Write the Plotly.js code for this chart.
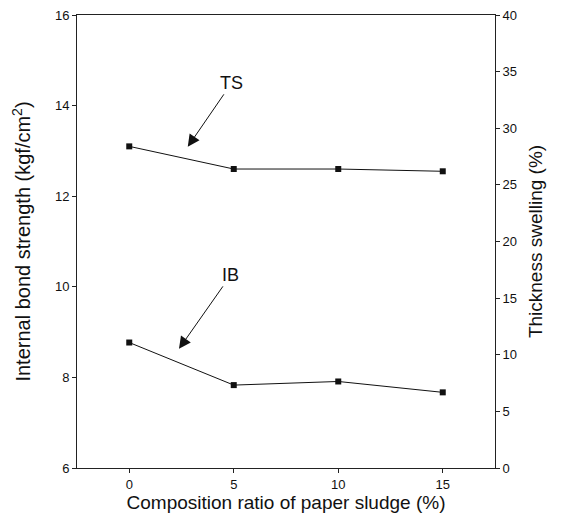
<!DOCTYPE html>
<html>
<head>
<meta charset="utf-8">
<script src="https://cdn.plot.ly/plotly-3.0.1.min.js"></script>
<style>html,body{margin:0;padding:0;background:#fff;}#chart{width:562px;height:517px;}</style>
</head>
<body>
<div id="chart"></div>
<script>
// Data
const sludgeRatio = [0, 5, 10, 15];          // Composition ratio of paper sludge (%)
const ibValues = [8.77, 7.83, 7.91, 7.67];    // Internal bond strength (kgf/cm2)
const tsValues = [28.4, 26.4, 26.4, 26.2];    // Thickness swelling (%)
const xTicks = [0, 5, 10, 15];
const yTicks = [6, 8, 10, 12, 14, 16];
const y2Ticks = [0, 5, 10, 15, 20, 25, 30, 35, 40];

const font = {family: 'Liberation Sans, Arial, sans-serif', color: '#111'};
const f = s => Object.assign({size: s}, font);

const traces = [
  {
    x: sludgeRatio, y: ibValues, name: 'IB', yaxis: 'y',
    mode: 'lines+markers',
    line: {color: '#111', width: 1},
    marker: {symbol: 'square', size: 6, color: '#111'}
  },
  {
    x: sludgeRatio, y: tsValues, name: 'TS', yaxis: 'y2',
    mode: 'lines+markers',
    line: {color: '#111', width: 1},
    marker: {symbol: 'square', size: 6, color: '#111'}
  }
];

const layout = {
  width: 562, height: 517,
  margin: {l: 77, r: 67, t: 15, b: 49},
  paper_bgcolor: '#fff', plot_bgcolor: '#fff',
  showlegend: false,
  font: f(13),
  xaxis: {
    range: [-2.5, 17.5], tickvals: xTicks, ticktext: xTicks.map(String),
    showgrid: false, zeroline: false,
    showline: true, linecolor: '#222', linewidth: 1, mirror: true,
    ticks: 'outside', ticklen: 4, tickcolor: '#222',
    tickfont: f(13),
    title: {text: 'Composition ratio of paper sludge (%)', font: f(19), standoff: 1}
  },
  yaxis: {
    range: [6, 16], tickvals: yTicks, ticktext: yTicks.map(String),
    showgrid: false, zeroline: false,
    showline: true, linecolor: '#222', linewidth: 1,
    ticks: 'outside', ticklen: 4, tickcolor: '#222',
    tickfont: f(13),
    title: {text: 'Internal bond strength (kgf/cm<sup>2</sup>)', font: f(20), standoff: 18}
  },
  yaxis2: {
    overlaying: 'y', side: 'right',
    range: [0, 40], tickvals: y2Ticks, ticktext: y2Ticks.map(String),
    showgrid: false, zeroline: false,
    showline: true, linecolor: '#222', linewidth: 1,
    ticks: 'outside', ticklen: 4, tickcolor: '#222',
    tickfont: f(13),
    title: {text: 'Thickness swelling (%)', font: f(19), standoff: 12}
  },
  annotations: [
    {
      xref: 'x', yref: 'y', x: 2.8, y: 13.09,
      text: 'TS', showarrow: true, ax: 44, ay: -64,
      arrowhead: 2, arrowsize: 2.4, arrowwidth: 1, arrowcolor: '#111',
      font: f(18)
    },
    {
      xref: 'x', yref: 'y', x: 2.38, y: 8.63,
      text: 'IB', showarrow: true, ax: 52, ay: -74,
      arrowhead: 2, arrowsize: 2.4, arrowwidth: 1, arrowcolor: '#111',
      font: f(18)
    }
  ]
};

Plotly.newPlot('chart', traces, layout, {staticPlot: true, displayModeBar: false});
</script>
</body>
</html>
